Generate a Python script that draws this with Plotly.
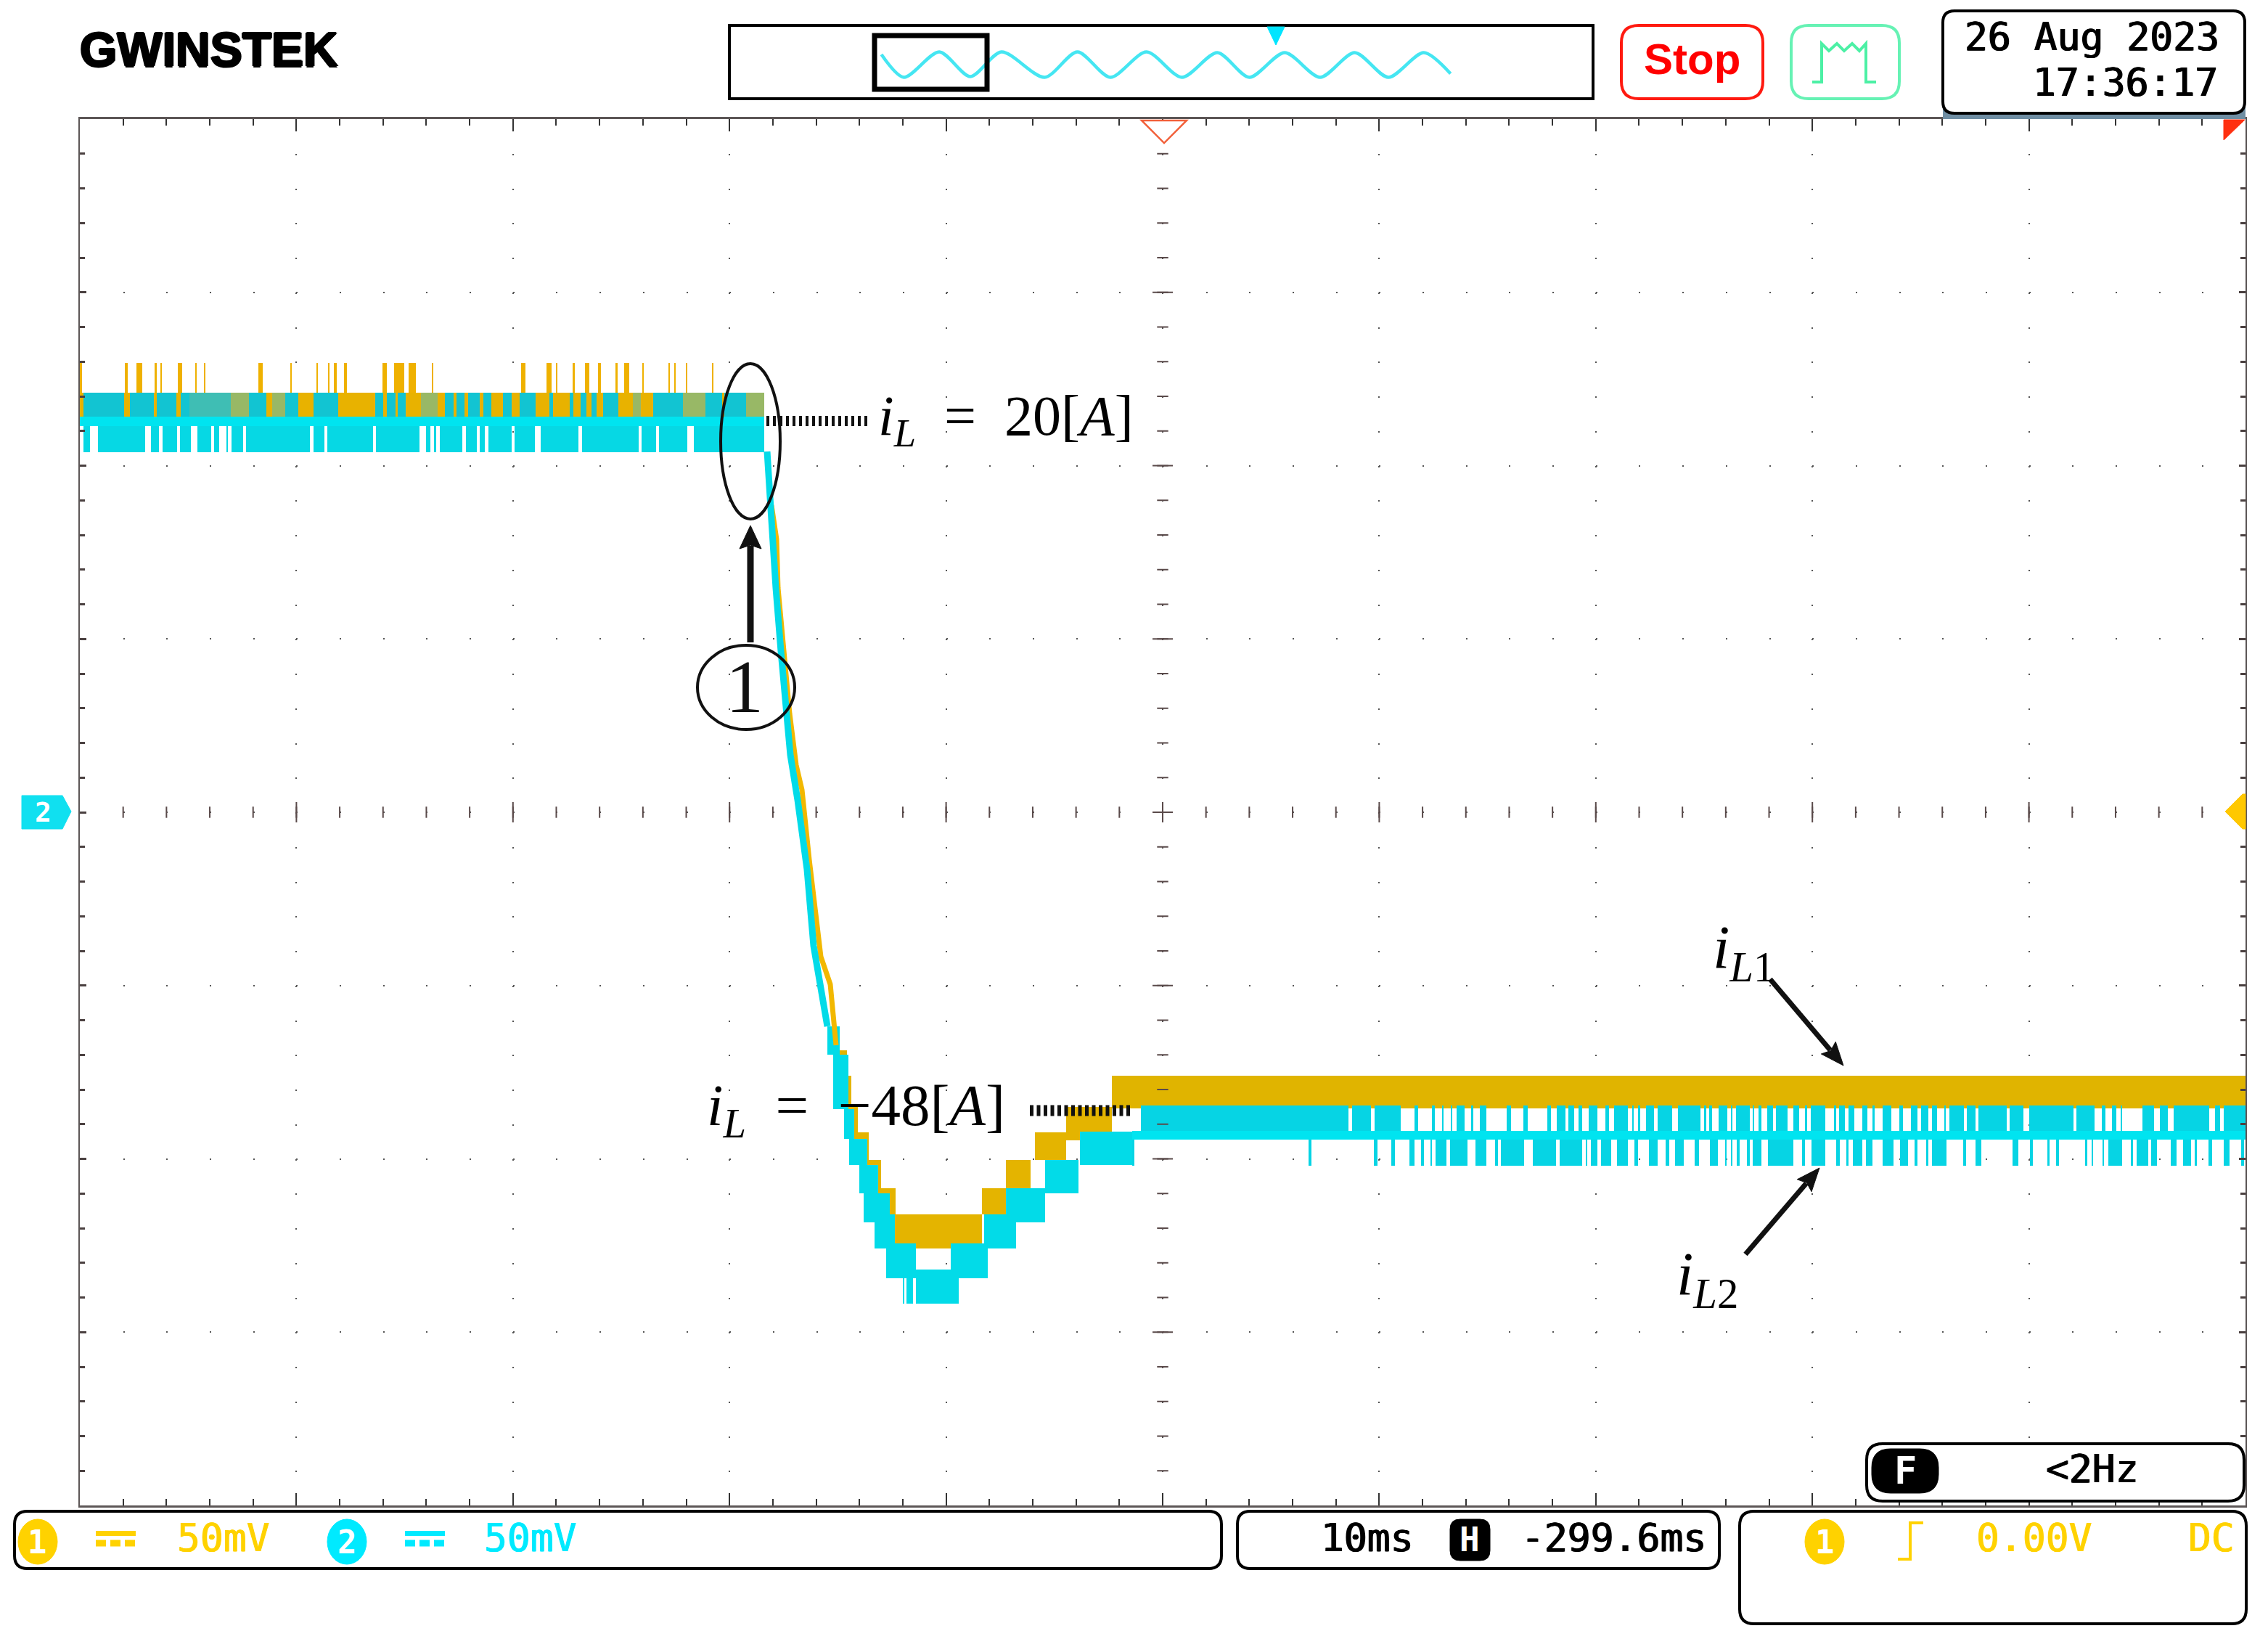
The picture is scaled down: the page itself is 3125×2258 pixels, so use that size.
import math
import plotly.graph_objects as go

W, H = 3125, 2258

# ---- data: scope samples (x) and ADC counts (y) ----
yellow_spikes = [(0,3),(62,66),(78,86),(103,106),(111,113),(135,141),(159,161),(171,173),(246,252),(290,292),
                 (326,328),(342,344),(350,354),(364,368),(417,423),(433,447),(453,463),(485,487),(608,614),
                 (643,650),(656,658),(679,682),(696,702),(714,718),(738,741),(750,757),(775,777),(811,813),
                 (819,821),(835,837),(871,873)]
overlap_teal = [(5,61),(69,102),(106,133),(139,151),(233,257),(283,301),(322,356),(407,418),(423,435),(438,449),
                (503,515),(519,530),(535,551),(556,567),(583,595),(606,628),(647,652),(675,680),(690,698),
                (705,712),(721,742),(790,831),(862,885),(888,918)]
overlap_sea = [(151,208)]
overlap_green = [(208,233),(265,283),(470,493),(762,773),(831,862),(918,943)]
left_teeth = [(5,14),(25,90),(98,109),(114,134),(138,153),(162,181),(185,192),(202,204),(209,225),(229,317),
              (322,337),(341,404),(408,468),(477,483),(488,491),(496,527),(532,547),(551,558),(563,595),
              (599,627),(635,687),(692,770),(774,794),(798,837),(846,943)]
yellow_stairs = [(1044,1057,-364,-329),(1045,1063,-407,-364),(1055,1072,-442,-407),(1060,1087,-480,-442),
                 (1075,1104,-519,-480),(1090,1124,-555,-519),(1123,1243,-602,-555),(1243,1276,-555,-519),
                 (1276,1310,-519,-480),(1316,1359,-480,-442),(1359,1378,-453,-442),(1359,1422,-442,-407)]
cyan_stairs = [(1030,1047,-335,-296),(1038,1059,-410,-335),(1053,1067,-451,-410),(1060,1085,-487,-451),
               (1074,1100,-526,-487),(1080,1116,-566,-526),(1095,1123,-602,-555),(1111,1152,-643,-595),
               (1134,1136,-678,-643),(1139,1148,-678,-643),(1152,1211,-678,-631),(1200,1251,-643,-595),
               (1246,1290,-602,-555),(1276,1330,-566,-519),(1330,1376,-526,-480),(1378,1452,-487,-441)]
fall_yellow_x = [953,960,962,970,978,987,995,1005,1013,1021,1034,1042]
fall_yellow_y = [422,375,308,221,135,64,30,-66,-137,-200,-238,-322]
fall_cyan_x = [947,954,959,966,974,979,989,1002,1011,1021,1030]
fall_cyan_y = [496,374,308,221,135,78,16,-80,-185,-238,-296]
right_upper_teeth = [(1462,1748),(1753,1779),(1784,1820),(1839,1844),(1863,1867),(1877,1879),(1889,1891),(1897,1908),
                     (1917,1920),(1929,1938),(1966,1972),(1989,1995),(2022,2027),(2035,2047),(2051,2059),(2065,2070),
                     (2079,2091),(2102,2107),(2114,2133),(2139,2141),(2147,2150),(2158,2169),(2174,2194),(2202,2233),
                     (2238,2241),(2245,2249),(2258,2270),(2275,2277),(2282,2301),(2305,2307),(2313,2317),(2325,2333),
                     (2337,2353),(2361,2369),(2377,2380),(2385,2405),(2417,2420),(2424,2432),(2437,2445),(2456,2463),
                     (2470,2473),(2484,2496),(2507,2512),(2523,2532),(2537,2547),(2552,2559),(2569,2571),(2576,2596),
                     (2600,2612),(2616,2655),(2659,2678),(2686,2747),(2751,2776),(2786,2791),(2800,2806),(2812,2814),
                     (2842,2858),(2866,2877),(2885,2934),(2942,2949),(2954,2984)]
right_lower_teeth = [(1450,1453),(1693,1697),(1783,1788),(1807,1812),(1832,1839),(1848,1852),(1861,1863),(1868,1883),
                     (1888,1912),(1923,1938),(1950,1954),(1958,1990),(2002,2034),(2039,2070),(2075,2077),(2082,2091),
                     (2096,2110),(2118,2133),(2142,2147),(2162,2174),(2185,2190),(2198,2210),(2225,2231),(2246,2257),
                     (2267,2269),(2275,2277),(2283,2287),(2297,2301),(2305,2317),(2326,2361),(2373,2377),(2386,2405),
                     (2420,2425),(2434,2437),(2443,2456),(2461,2470),(2484,2499),(2508,2519),(2528,2532),(2544,2547),
                     (2552,2572),(2595,2599),(2612,2620),(2663,2671),(2687,2691),(2711,2714),(2723,2727),(2763,2766),
                     (2772,2774),(2787,2789),(2795,2814),(2826,2829),(2834,2850),(2854,2862),(2881,2889),(2898,2909),
                     (2914,2917),(2933,2938),(2954,2962),(2978,2982)]
# overview strip
overview_x = [17.6,20.2,24.3,27.9,31.5,36.5,40.3,44.1,48.3,52.4,56.5,60.2,64.3,68.4,72.4,76.3,80.4,83.5]
overview_y = [10.5,-21,14,-20,14,-21,14,-21,14,-21,13,-21,13,-21,13,-21,13,-16]

YEL, CYN = "#e4b400", "#02dbe8"
fig = go.Figure()

def bars(segs, low, high, color):
    fig.add_bar(x=[(s[0]+s[1])/2 for s in segs], width=[s[1]-s[0] for s in segs],
                base=[low]*len(segs), y=[high-low]*len(segs), marker=dict(color=color, line=dict(width=0)),
                hoverinfo="skip", showlegend=False)

def stair_bars(rows, color):
    fig.add_bar(x=[(r[0]+r[1])/2 for r in rows], width=[r[1]-r[0] for r in rows],
                base=[r[2] for r in rows], y=[r[3]-r[2] for r in rows],
                marker=dict(color=color, line=dict(width=0)), hoverinfo="skip", showlegend=False)

# channel 1
fig.add_scatter(x=fall_yellow_x, y=fall_yellow_y, mode="lines", line=dict(color="#f2b800", width=7), showlegend=False)
bars(yellow_spikes, 577, 618, "#efb100")
bars([(0,943)], 544, 577, "#e8b200")
stair_bars(yellow_stairs, YEL)
bars([(1422,2984)], -409, -364, "#e0b400")
bars(overlap_teal, 544, 577, "#12c4d2")
bars(overlap_sea, 544, 577, "#3fbeb4")
bars(overlap_green, 544, 577, "#98b866")
# channel 2
fig.add_scatter(x=fall_cyan_x, y=fall_cyan_y, mode="lines", line=dict(color=CYN, width=9), showlegend=False)
bars([(0,943)], 531, 544, "#00e4f0")
bars(left_teeth, 495, 531, "#06d8e4")
stair_bars(cyan_stairs, CYN)
bars([(1450,2984)], -452, -440, "#00e4f0")
bars(right_upper_teeth, -440, -405, "#06d4e4")
bars(right_lower_teeth, -488, -452, "#06d4e4")

# centre cross ticks
maj_x = [298.4*i for i in range(1, 10)]
min_x = [59.68*i for i in range(1, 50)]
maj_y = [-1+238.75*i for i in range(-3, 4)]
min_y = [-1+47.75*i for i in range(-19, 20)]
TICK = "#5a4a4a"
def cross(xs, ys, sym, size):
    fig.add_scatter(x=xs, y=ys, mode="markers", showlegend=False, hoverinfo="skip",
                    marker=dict(symbol=sym, size=size, color=TICK, line=dict(color=TICK, width=2)))
cross(min_x, [-1]*len(min_x), "line-ns-open", 11)
cross(maj_x, [-1]*len(maj_x), "line-ns-open", 20)
cross([1492]*len(min_y), min_y, "line-ew-open", 11)
cross([1492]*len(maj_y), maj_y, "line-ew-open", 20)

# overview trace
fig.add_scatter(x=overview_x, y=overview_y, xaxis="x2", yaxis="y2", mode="lines", showlegend=False,
                line=dict(color="#45e6f2", width=4.5, shape="spline", smoothing=0.8))

def X(p): return p/W
def Y(p): return 1-p/H
shapes, annos = [], []

def rect(x0, y0, x1, y1, line="black", lw=0, fill=None):
    d = dict(type="rect", xref="paper", yref="paper", x0=X(x0), x1=X(x1), y0=Y(y0), y1=Y(y1),
             line=dict(color=line, width=lw))
    if fill: d["fillcolor"] = fill
    shapes.append(d)

def path(pts, line="black", lw=2, fill=None, close=False):
    s = "M" + " L".join(f"{X(a):.5f},{Y(b):.5f}" for a, b in pts) + (" Z" if close else "")
    d = dict(type="path", xref="paper", yref="paper", path=s, line=dict(color=line, width=lw))
    if fill: d["fillcolor"] = fill
    shapes.append(d)

def rrect(x0, y0, x1, y1, r=20, line="black", lw=4, fill=None):
    c = lambda a, b: f"{X(a):.5f},{Y(b):.5f}"
    s = (f"M{c(x0+r,y0)} L{c(x1-r,y0)} Q{c(x1,y0)} {c(x1,y0+r)} L{c(x1,y1-r)} Q{c(x1,y1)} {c(x1-r,y1)} "
         f"L{c(x0+r,y1)} Q{c(x0,y1)} {c(x0,y1-r)} L{c(x0,y0+r)} Q{c(x0,y0)} {c(x0+r,y0)} Z")
    d = dict(type="path", xref="paper", yref="paper", path=s, line=dict(color=line, width=lw))
    if fill: d["fillcolor"] = fill
    shapes.append(d)

def ellipse(cx, cy, rx, ry, line="black", lw=4, fill=None):
    d = dict(type="circle", xref="paper", yref="paper", x0=X(cx-rx), x1=X(cx+rx), y0=Y(cy+ry), y1=Y(cy-ry),
             line=dict(color=line, width=lw))
    if fill: d["fillcolor"] = fill
    shapes.append(d)

def dline(x0, x1, y, width, dash):
    shapes.append(dict(type="line", xref="paper", yref="paper", x0=X(x0), x1=X(x1), y0=Y(y), y1=Y(y),
                       line=dict(color="#111", width=width, dash=dash)))

def text(t, x, y, size, color="black", family="DejaVu Sans Mono", anchor="left", shadow=None):
    f = dict(size=size, color=color, family=family)
    if shadow: f["shadow"] = shadow
    annos.append(dict(text=t, xref="paper", yref="paper", x=X(x), y=Y(y), xanchor=anchor, yanchor="middle",
                      showarrow=False, font=f))

def arrow(x0, y0, x1, y1, width=8, hl=32, hw=30):
    L = math.hypot(x1-x0, y1-y0)
    ux, uy = (x1-x0)/L, (y1-y0)/L
    bx, by = x1-ux*hl, y1-uy*hl
    path([(x0, y0), (bx+ux*4, by+uy*4)], line="#111", lw=width)
    path([(x1, y1), (bx-uy*hw/2, by+ux*hw/2), (bx+ux*5, by+uy*5), (bx+uy*hw/2, by-ux*hw/2)], line="#111", lw=1, fill="#111", close=True)

BOLDISH = "0.7px 0 0 currentColor, -0.7px 0 0 currentColor"
def mono(t, x, y, color="black", anchor="left"):
    sh = {"black": "0.8px 0 0 #000, -0.8px 0 0 #000"}.get(color, f"0.6px 0 0 {color}, -0.6px 0 0 {color}")
    text(t, x, y, 53, color=color, anchor=anchor, shadow=sh)

# header
text("<b>GWINSTEK</b>", 108, 68, 66, family="Liberation Sans", shadow="1.5px 0 0 #000, -1.5px 0 0 #000, 0 1.5px 0 #000, 0 -1.5px 0 #000")
rect(1005, 35, 2195, 136, lw=4)
rect(1205, 49, 1360, 123, lw=7)
path([(1746,37),(1770,37),(1758,62)], line="#00e5ff", lw=1, fill="#00e5ff", close=True)
rrect(2234, 35, 2429, 136, r=24, line="#ff1a10", lw=4)
text("<b>Stop</b>", 2331, 82, 60, color="#ff0000", family="Liberation Sans", anchor="center")
rrect(2468, 35, 2617, 136, r=24, line="#66f2b4", lw=4)
path([(2497,113),(2510,113),(2510,60),(2520,70),(2531,60),(2541,70),(2552,60),(2562,70),(2571,60),(2571,113),(2585,113)],
     line="#4cf0a5", lw=4)
rect(2677, 100, 3094, 164, fill="#6f8ea3")
rrect(2677, 15, 3093, 156, r=16, lw=4, fill="white")
mono("26 Aug 2023", 3060, 50, anchor="right")
mono("17:36:17", 3058, 114, anchor="right")

# markers on the edges
path([(1573,166),(1635,166),(1604,197)], line="#f2603a", lw=2.5, fill="white", close=True)
path([(3064,165),(3093,165),(3064,193)], line="#ff3010", lw=1, fill="#ff3010", close=True)
path([(30,1096),(86,1096),(98,1118),(86,1142),(30,1142)], line="#10e0f0", lw=1, fill="#10e0f0", close=True)
text("<b>2</b>", 60, 1119, 38, color="white", anchor="center")
path([(3066,1118),(3090,1094),(3094,1094),(3094,1142),(3090,1142)], line="#ffc800", lw=1, fill="#ffc800", close=True)

# hand-drawn labels on the plot
SERIF = "Liberation Serif"
EN = "\u2002"
ellipse(1034, 608, 41, 107, lw=4, line="#111")
ellipse(1028, 947, 67, 58, lw=4, line="#111")
text("1", 1026, 945, 104, family=SERIF, anchor="center", color="#111")
arrow(1034, 885, 1034, 724, width=9, hl=32, hw=30)
dline(1056, 1195, 580, 14, "4px,5px")
dline(1419, 1560, 1530, 15, "5px,4.5px")
text(f"<i>i<sub>L</sub></i>{EN}={EN}20[<i>A</i>]", 1208, 578, 78, family=SERIF)
text(f"<i>i<sub>L</sub></i>{EN}={EN}−48[<i>A</i>]", 972, 1528, 81, family=SERIF)
text("<i>i<sub>L</sub></i><sub>1</sub>", 2358, 1312, 84, family=SERIF)
text("<i>i<sub>L</sub></i><sub>2</sub>", 2308, 1762, 84, family=SERIF)
arrow(2439, 1349, 2540, 1468, width=7, hl=32, hw=26)
arrow(2405, 1728, 2507, 1609, width=7, hl=32, hw=26)

# bottom panels
rrect(20, 2082, 1683, 2161, r=18)
rrect(1705, 2082, 2369, 2161, r=18)
rrect(2397, 2082, 3095, 2237, r=20)
rrect(2572, 1989, 3092, 2068, r=22, fill="white")

Y1, C1 = "#ffd200", "#00eaff"
ellipse(52, 2124, 27, 31, line=Y1, lw=1, fill=Y1)
text("<b>1</b>", 52, 2124, 44, color="white", anchor="center")
rect(132, 2109, 187, 2116, line=Y1, fill=Y1)
shapes.append(dict(type="line", xref="paper", yref="paper", x0=X(132), x1=X(187), y0=Y(2126), y1=Y(2126), line=dict(color=Y1, width=9, dash="14px,6px")))
mono("50mV", 242, 2118, color=Y1)
ellipse(478, 2124, 27, 31, line=C1, lw=1, fill=C1)
text("<b>2</b>", 478, 2124, 44, color="white", anchor="center")
rect(558, 2109, 613, 2116, line=C1, fill=C1)
shapes.append(dict(type="line", xref="paper", yref="paper", x0=X(558), x1=X(613), y0=Y(2126), y1=Y(2126), line=dict(color=C1, width=9, dash="14px,6px")))
mono("50mV", 665, 2118, color=C1)

mono("10ms", 1818, 2118)
rrect(1998, 2093, 2053, 2150, r=14, fill="black", lw=1)
text("<b>H</b>", 2025.5, 2121, 46, color="white", anchor="center")
mono("-299.6ms", 2094, 2118)

ellipse(2514, 2124, 27, 31, line=Y1, lw=1, fill=Y1)
text("<b>1</b>", 2514, 2124, 44, color="white", anchor="center")
path([(2615,2148),(2632,2148),(2632,2098),(2650,2098)], line=Y1, lw=4)
mono("0.00V", 2721, 2118, color=Y1)
mono("DC", 3081, 2118, color=Y1, anchor="right")

rrect(2579, 1996, 2671, 2057, r=26, fill="black", lw=1)
text("<b>F</b>", 2625, 2026, 52, color="white", anchor="center")
mono("<2Hz", 2817, 2024)

AX = "#5c5656"
fig.update_layout(
    width=W, height=H, margin=dict(l=0, r=0, t=0, b=0), paper_bgcolor="white", plot_bgcolor="rgba(0,0,0,0)",
    barmode="overlay", bargap=0, showlegend=False, shapes=shapes, annotations=annos,
    xaxis=dict(domain=[110/W, 3094/W], range=[0, 2984], showticklabels=False, zeroline=False, anchor="y",
               tick0=0, dtick=298.4, ticks="inside", ticklen=17, tickwidth=2, tickcolor="#333",
               showline=True, linecolor=AX, linewidth=3, mirror="allticks",
               minor=dict(tick0=0, dtick=59.68, ticks="inside", ticklen=9, tickwidth=2, tickcolor="#333", showgrid=False),
               showgrid=True, gridcolor="#555", gridwidth=2, griddash="2px,45.75px"),
    yaxis=dict(domain=[1-2074/H, 1-164/H], range=[-956, 954], showticklabels=False, zeroline=False, anchor="x",
               tick0=-1, dtick=238.75, ticks="inside", ticklen=9, tickwidth=3, tickcolor="#4a4040",
               showline=True, linecolor=AX, linewidth=2, mirror="allticks",
               minor=dict(tick0=-1, dtick=47.75, ticks="inside", ticklen=7, tickwidth=3, tickcolor="#4a4040", showgrid=False),
               showgrid=True, gridcolor="#555", gridwidth=2, griddash="2px,57.68px"),
    xaxis2=dict(domain=[1005/W, 2195/W], range=[0, 100], visible=False, anchor="y2", fixedrange=True),
    yaxis2=dict(domain=[1-137/H, 1-34/H], range=[-51.5, 51.5], visible=False, anchor="x2", fixedrange=True),
)
fig.write_html("out.html", config=dict(displayModeBar=False),
               post_script="document.body.style.margin='0';document.body.style.overflow='hidden';")
